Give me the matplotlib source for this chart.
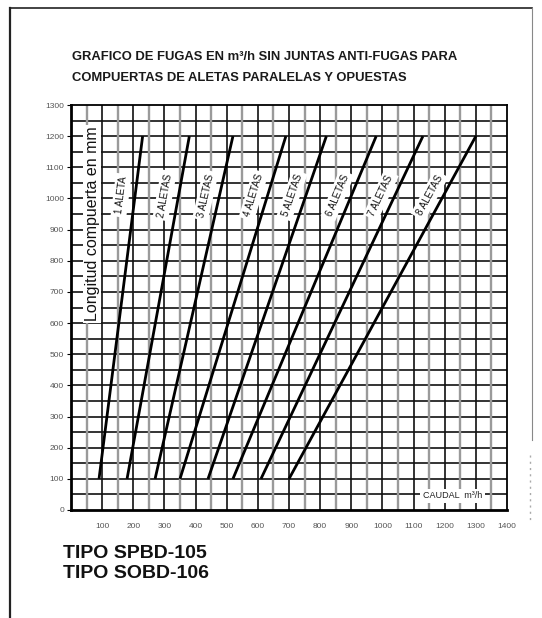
import numpy as np
import matplotlib
matplotlib.use("Agg")
import matplotlib.pyplot as plt
from matplotlib.lines import Line2D

plt.rcParams['font.family'] = ['Liberation Sans', 'DejaVu Sans']

# Leakage lines: flow (m3/h) at 100 mm and at 1200 mm damper length
series_labels = ["1 ALETA", "2 ALETAS", "3 ALETAS", "4 ALETAS",
                 "5 ALETAS", "6 ALETAS", "7 ALETAS", "8 ALETAS"]
flow_at_min = [90, 180, 270, 350, 440, 520, 610, 700]
flow_at_max = [230, 380, 520, 690, 820, 980, 1130, 1300]
length_min = 100
length_max = 1200

x_ticks = [100, 200, 300, 400, 500, 600, 700, 800, 900, 1000, 1100, 1200, 1300, 1400]
y_ticks = [0, 100, 200, 300, 400, 500, 600, 700, 800, 900, 1000, 1100, 1200, 1300]

title_lines = ["GRAFICO DE FUGAS EN m³/h SIN JUNTAS ANTI-FUGAS PARA",
               "COMPUERTAS DE ALETAS PARALELAS Y OPUESTAS"]
y_label = "Longitud compuerta en mm"
x_label = "CAUDAL  m³/h"
type_lines = ["TIPO SPBD-105", "TIPO SOBD-106"]

W, H = 542, 618
fig = plt.figure(figsize=(W / 100, H / 100), dpi=100)
fig.patch.set_facecolor("white")

ax = fig.add_axes([71 / W, 1 - 510 / H, (507 - 71) / W, (510 - 105) / H])
ax.set_xlim(0, 1400)
ax.set_ylim(0, 1300)

# grid: horizontal every 50, vertical every 50 alternating grey / dark
for yv in np.arange(50, 1300, 50):
    ax.axhline(yv, color="#111111", lw=1.2, zorder=1)
for i, xv in enumerate(np.arange(50, 1400, 50)):
    if i % 2 == 0:
        ax.axvline(xv, color="#9a9a9a", lw=1.7, zorder=1)
    else:
        ax.axvline(xv, color="#111111", lw=1.2, zorder=1)

for side in ["left", "bottom"]:
    ax.spines[side].set_linewidth(2.0)
for side in ["right", "top"]:
    ax.spines[side].set_linewidth(1.3)

ax.set_xticks(x_ticks)
ax.set_xticklabels([str(v) for v in x_ticks])
ax.set_yticks(y_ticks)
ax.set_yticklabels([str(v) for v in y_ticks])
ax.tick_params(axis="x", length=0, pad=9, labelsize=6, labelcolor="#555555")
ax.tick_params(axis="y", length=3, width=0.8, direction="out", pad=2,
               labelsize=6, labelcolor="#555555")

# leakage lines with their rotated labels
for lab, x0, x1 in zip(series_labels, flow_at_min, flow_at_max):
    ax.plot([x0, x1], [length_min, length_max], color="black", lw=2.0,
            solid_capstyle="butt", zorder=3)
    yl = 1010
    xl = x0 + (yl - length_min) / (length_max - length_min) * (x1 - x0) - 45
    ang = np.degrees(np.arctan2(length_max - length_min, x1 - x0))
    ax.text(xl, yl, lab, rotation=ang, transform_rotates_text=True,
            rotation_mode="anchor", ha="center", va="center",
            fontsize=7, color="#111111", zorder=4,
            bbox=dict(boxstyle="square,pad=0.3", fc="white", ec="none"))

ax.text(68, 918, y_label, rotation=90, ha="center", va="center",
        fontsize=11.5, color="#111111", zorder=4,
        bbox=dict(boxstyle="square,pad=0.1", fc="white", ec="none"))

ax.text(1225, 45, x_label, ha="center", va="center", fontsize=6.5,
        color="#222222", zorder=4,
        bbox=dict(boxstyle="square,pad=0.3", fc="white", ec="none"))

# titles
fig.text(72 / W, 1 - 57 / H, title_lines[0], fontsize=9.4, fontweight="bold",
         color="#1a1a1a", ha="left", va="center")
fig.text(72 / W, 1 - 78 / H, title_lines[1], fontsize=9.4, fontweight="bold",
         color="#1a1a1a", ha="left", va="center")

fig.text(63 / W, 1 - 553 / H, type_lines[0], fontsize=14, fontweight="bold",
         color="#111111", ha="left", va="center")
fig.text(63 / W, 1 - 573 / H, type_lines[1], fontsize=14, fontweight="bold",
         color="#111111", ha="left", va="center")

# page frame
fig.add_artist(Line2D([10 / W, 10 / W], [0, 1 - 8 / H], color="#222222", lw=1.6))
fig.add_artist(Line2D([10 / W, 532 / W], [1 - 8 / H, 1 - 8 / H], color="#222222", lw=1.2))
fig.add_artist(Line2D([532 / W, 532 / W], [1 - 8 / H, 1 - 440 / H], color="#888888", lw=0.8))
fig.add_artist(Line2D([530 / W, 530 / W], [1 - 455 / H, 1 - 520 / H], color="#aaaaaa",
                      lw=1.0, ls=(0, (1.5, 3))))

fig.savefig("out.png", dpi=100, facecolor="white")
